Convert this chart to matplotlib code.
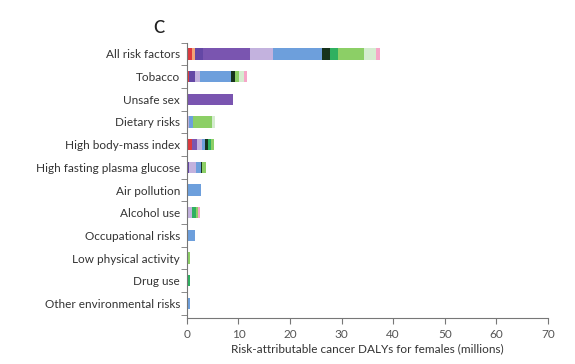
import numpy as np
import matplotlib.pyplot as plt

plt.rcParams['font.family'] = ['Lato', 'DejaVu Sans']

categories = ['All risk factors', 'Tobacco', 'Unsafe sex', 'Dietary risks',
              'High body-mass index', 'High fasting plasma glucose',
              'Air pollution', 'Alcohol use', 'Occupational risks',
              'Low physical activity', 'Drug use', 'Other environmental risks']

# segment colours, drawn left to right in this order
seg_colors = ['#dc3a3f', '#f2a477', '#6447a5', '#7a55b0', '#c3b2de', '#6d9fdc',
              '#17331c', '#2fb060', '#8ccf66', '#d5ecd0', '#f6a6c8']

# segment widths (millions) per category, same order as seg_colors
all_risk = [0.9, 0.65, 1.65, 9.0, 4.5, 9.4, 1.6, 1.5, 5.2, 2.3, 0.8]
tobacco = [0.5, 0, 1.0, 0, 1.1, 6.0, 0.8, 0, 0.8, 0.8, 0.7]
unsafe_sex = [0, 0, 0, 9.0, 0, 0, 0, 0, 0, 0, 0]
dietary = [0, 0, 0, 0, 0.5, 0.7, 0, 0, 3.6, 0.7, 0]
high_bmi = [0.9, 0, 0, 1.1, 1.0, 0.5, 0.6, 0.6, 0.5, 0, 0]
hfpg = [0, 0, 0.5, 0, 1.3, 0.9, 0.3, 0, 0.8, 0, 0]
air = [0, 0, 0, 0, 0, 2.8, 0, 0, 0, 0, 0]
alcohol = [0, 0, 0, 0, 1.0, 0, 0, 0.8, 0.4, 0, 0.4]
occupational = [0, 0, 0.3, 0, 0, 1.2, 0, 0, 0, 0, 0]
low_activity = [0, 0, 0, 0, 0, 0, 0, 0, 0.7, 0, 0]
drug_use = [0, 0, 0, 0, 0, 0, 0, 0.7, 0, 0, 0]
other_env = [0, 0, 0, 0, 0, 0.6, 0, 0, 0, 0, 0]

rows = [all_risk, tobacco, unsafe_sex, dietary, high_bmi, hfpg, air, alcohol,
        occupational, low_activity, drug_use, other_env]

fig = plt.figure(figsize=(5.75, 3.64), dpi=100)
ax = fig.add_axes([0.325, 0.126, 0.628, 0.757])

y = np.arange(len(categories))
data = np.array(rows)
left = np.zeros(len(categories))
for j, c in enumerate(seg_colors):
    ax.barh(y, data[:, j], left=left, height=0.5, color=c, linewidth=0)
    left += data[:, j]

ax.set_ylim(11.65, -0.5)
ax.set_xlim(0, 70)
ax.set_xticks(np.arange(0, 71, 10))
ax.set_yticks(y)
ax.set_yticklabels(categories)
ax.set_yticks(np.arange(-0.5, 11.6, 1), minor=True)
ax.tick_params(axis='y', which='major', length=0, pad=5, labelsize=8.5, labelcolor='#333333')
ax.tick_params(axis='y', which='minor', length=4, color='#777777')
ax.tick_params(axis='x', length=4, color='#777777', labelsize=8.5, labelcolor='#555555')
for s in ['top', 'right']:
    ax.spines[s].set_visible(False)
for s in ['left', 'bottom']:
    ax.spines[s].set_color('#777777')
ax.set_xlabel('Risk-attributable cancer DALYs for females (millions)', fontsize=8.5,
              color='#333333', labelpad=3)

fig.text(0.266, 0.91, 'C', fontsize=12, color='#222222', fontweight='semibold')

fig.savefig('out.png', dpi=100)
